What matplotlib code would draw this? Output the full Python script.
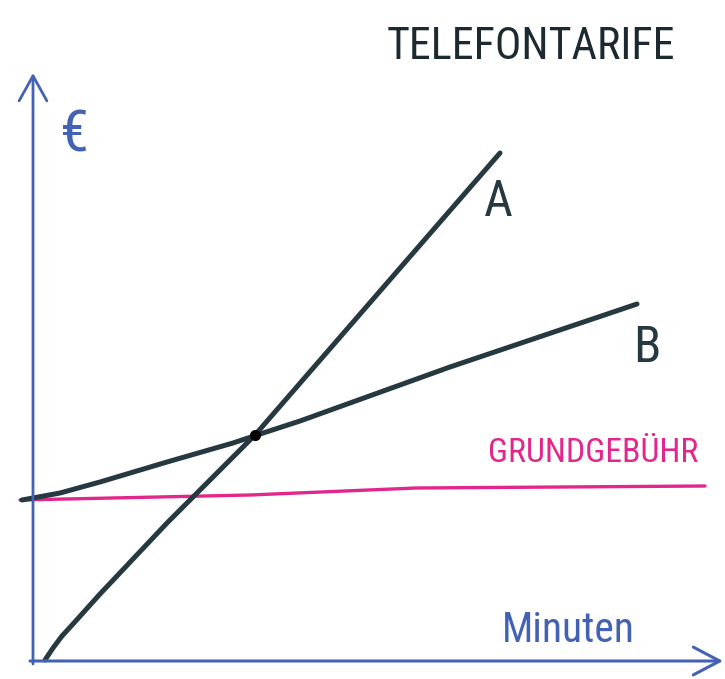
import matplotlib
matplotlib.use("Agg")
import matplotlib.pyplot as plt
from matplotlib import font_manager

# units: minutes on x, euro on y (arbitrary sketch units)
tarif_a_min = [1.2, 2.0, 2.9, 4.0, 6.7, 13.4, 22.2, 46.7]
tarif_a_eur = [0.1, 1.3, 2.5, 3.7, 6.7, 13.8, 22.6, 50.8]
tarif_b_min = [-1.1, 2.7, 6.7, 13.4, 20.0, 22.4, 26.7, 41.7, 60.4]
tarif_b_eur = [16.1, 16.8, 17.9, 19.9, 21.8, 22.6, 24.0, 29.4, 35.7]
grund_min = [-1.3, 21.7, 38.3, 67.2]
grund_eur = [16.1, 16.6, 17.3, 17.5]
schnitt_min, schnitt_eur = 22.2, 22.6

blue = "#4462b4"
dark = "#263840"
pink = "#e2268c"

# pick a narrow font if one is installed
hand = None
wanted = ["Noto Sans ExtraCondensed", "Noto Sans Condensed", "DejaVu Sans Condensed",
          "Liberation Sans Narrow", "Roboto Condensed", "Open Sans Condensed"]
fonts = font_manager.fontManager.ttflist
for name in wanted:
    hits = [f for f in fonts if f.name == name and f.weight in (400, "normal", "regular")
            and f.style == "normal"]
    if hits:
        hand = font_manager.FontProperties(fname=hits[0].fname)
        break
if hand is None:
    narrow = [f for f in fonts if f.stretch in ("extra-condensed", "condensed", "semi-condensed")
              and f.style == "normal" and f.weight in (400, "normal", "regular")]
    narrow.sort(key=lambda f: ("Noto" not in f.name, "DejaVu" not in f.name))
    if narrow:
        hand = font_manager.FontProperties(fname=narrow[0].fname)
    else:
        hand = font_manager.FontProperties(family="DejaVu Sans")

fig = plt.figure(figsize=(7.25, 6.79), dpi=100)
ax = fig.add_axes([0, 0, 1, 1])
ax.set_xlim(-3.3, 69.2)
ax.set_ylim(-1.8, 66.1)
ax.axis("off")

# axes arrows
ax.annotate("", xy=(0, 58.8), xytext=(0, -0.3),
            arrowprops=dict(arrowstyle="->,head_length=0.9,head_width=0.5",
                            color=blue, lw=2.0, mutation_scale=20, shrinkA=0, shrinkB=0))
ax.annotate("", xy=(69.0, 0), xytext=(-0.3, 0),
            arrowprops=dict(arrowstyle="->,head_length=0.95,head_width=0.5",
                            color=blue, lw=2.2, mutation_scale=20, shrinkA=0, shrinkB=0))

ax.plot(grund_min, grund_eur, color=pink, lw=2.4, solid_capstyle="round")
ax.plot(tarif_a_min, tarif_a_eur, color=dark, lw=3.6, solid_capstyle="round",
        solid_joinstyle="round")
ax.plot(tarif_b_min, tarif_b_eur, color=dark, lw=3.6, solid_capstyle="round",
        solid_joinstyle="round")
ax.plot(schnitt_min, schnitt_eur, "o", color="black", ms=7)

# labels: (text, x, y, colour, width in px or None, size in pt)
labels = [
    ("TELEFONTARIFE", 49.8, 61.4, "#1c2a30", 288, None),
    ("€", 4.1, 52.5, blue, None, 42),
    ("A", 46.5, 45.9, dark, None, 36),
    ("B", 61.4, 31.3, dark, None, 36),
    ("GRUNDGEBÜHR", 56.0, 20.8, pink, 210, None),
    ("Minuten", 53.5, 3.1, blue, 133, None),
]
renderer = fig.canvas.get_renderer()
for txt, x, y, col, w, size in labels:
    t = ax.text(x, y, txt, fontproperties=hand, fontsize=size or 30, color=col,
                ha="center", va="center")
    if w:
        cur = t.get_window_extent(renderer).width
        t.set_fontsize(30 * w / cur)

fig.savefig("out.png", dpi=100)
